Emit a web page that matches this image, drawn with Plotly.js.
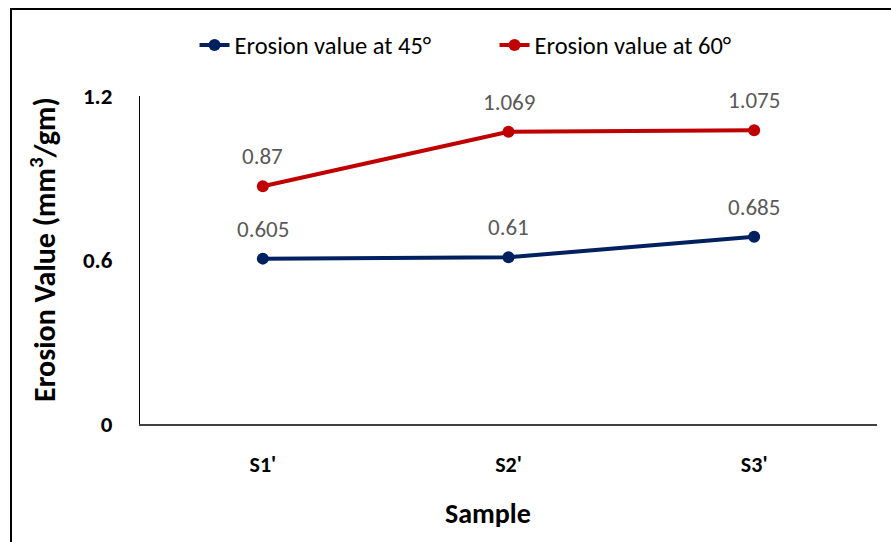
<!DOCTYPE html>
<html>
<head>
<meta charset="utf-8">
<script src="https://cdn.plot.ly/plotly-3.0.1.min.js"></script>
<style>
  html, body { margin: 0; padding: 0; background: #fff; }
  #wrap { position: relative; width: 891px; height: 542px; overflow: hidden; }
  #chart { position: absolute; left: 0; top: 0; width: 891px; height: 542px; }
  #frame { position: absolute; left: 10px; top: 8px; width: 900px; height: 560px;
           border-left: 2.5px solid #000; border-top: 2.5px solid #000; pointer-events: none; }
</style>
</head>
<body>
<div id="wrap">
  <div id="chart"></div>
  <div id="frame"></div>
</div>
<script>
// Erosion values per sample at two impingement angles
const samples = ["S1'", "S2'", "S3'"];
const erosion45 = [0.605, 0.61, 0.685];
const erosion60 = [0.87, 1.069, 1.075];
const yTicks = [0, 0.6, 1.2];

const blue = '#002060';
const red = '#C00000';
const face = 'Carlito, Calibri, Lato, "Open Sans", sans-serif';
const labelFont = { family: face, size: 23, color: '#595959' };

function series(name, values, color) {
  return {
    type: 'scatter', mode: 'lines+markers', name: name,
    x: samples, y: values,
    line: { color: color, width: 4 },
    marker: { color: color, size: 12 },
    hoverinfo: 'skip'
  };
}

function labels(values) {
  return values.map((v, i) => ({
    x: samples[i], y: v, xref: 'x', yref: 'y',
    text: String(v), showarrow: false, yshift: 30,
    font: labelFont
  }));
}

const data = [
  series('Erosion value at 45°', erosion45, blue),
  series('Erosion value at 60°', erosion60, red)
];

// axis titles placed as paper annotations so they can sit off-centre
const titles = [
  { text: '<b>Sample</b>', xref: 'paper', yref: 'paper', x: 0.472, y: -0.272,
    xanchor: 'center', yanchor: 'middle', showarrow: false,
    font: { family: face, size: 28, color: '#000' } },
  { text: '<b>Erosion Value (mm<sup>3</sup>/gm)</b>', xref: 'paper', yref: 'paper',
    x: -0.132, y: 0.533, xanchor: 'center', yanchor: 'middle', textangle: -90,
    showarrow: false, font: { family: face, size: 30, color: '#000' } }
];

const layout = {
  width: 891, height: 542,
  margin: { l: 140, r: 14, t: 96, b: 118 },
  paper_bgcolor: '#fff', plot_bgcolor: '#fff',
  showlegend: true,
  legend: {
    orientation: 'h', x: 0.074, xanchor: 'left',
    yref: 'container', y: 0.917, yanchor: 'middle',
    font: { family: face, size: 24.5, color: '#000' },
    itemwidth: 30, entrywidth: 255, entrywidthmode: 'pixels'
  },
  xaxis: {
    type: 'category', range: [-0.5, 2.5],
    showline: true, linecolor: '#404040', linewidth: 1.5,
    showgrid: false, zeroline: false, ticks: '',
    tickfont: { family: face, size: 22, color: '#000', weight: 'bold' },
    ticklabelstandoff: 20
  },
  yaxis: {
    range: [0, 1.2], tickvals: yTicks, ticktext: yTicks.map(String),
    showline: true, linecolor: '#000', linewidth: 1,
    showgrid: false, zeroline: false, ticks: '',
    tickfont: { family: face, size: 23, color: '#000', weight: 'bold' },
    ticklabelstandoff: 22
  },
  annotations: labels(erosion45).concat(labels(erosion60)).concat(titles)
};

Plotly.newPlot('chart', data, layout, { displayModeBar: false, staticPlot: true });
</script>
</body>
</html>
